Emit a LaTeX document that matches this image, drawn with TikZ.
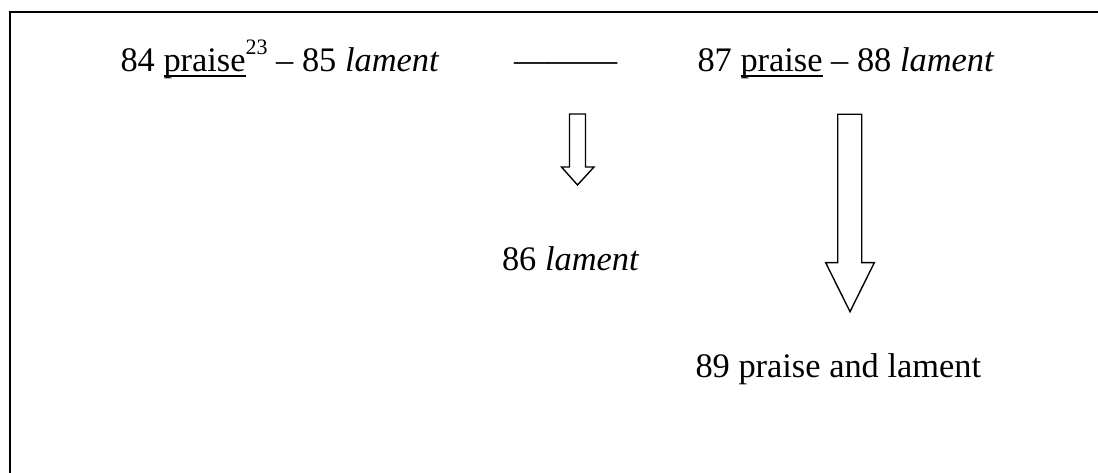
\documentclass[tikz,border=0pt]{standalone}
\usepackage{fontspec}
\setmainfont{Liberation Serif}
\newsavebox\ulbox
\newcommand\myul[1]{\sbox\ulbox{#1}\rlap{\rule[-5.5pt]{\wd\ulbox}{2pt}}\usebox\ulbox}
\newcommand\supnum[1]{\raisebox{17pt}{\fontsize{22}{22}\selectfont #1}}
\tikzset{
  txt/.style={anchor=base west, inner sep=0pt, outer sep=0pt, font=\fontsize{34.4}{41}\selectfont},
  hollowarrow/.style={draw=black, line width=1.4pt, fill=white, line join=miter},
  frameline/.style={draw=black, line width=2.2pt}
}
\begin{document}
\begin{tikzpicture}[x=1pt,y=-1pt]
\useasboundingbox (0,0) rectangle (1098,473);
% frame (only the left and top edges fall inside the picture)
\draw[frameline] (10,480) -- (10,12) -- (1105,12);
% texts
\node[txt] (t1) at (120.5,72) {84 \myul{praise}\supnum{23} – 85 \textit{lament}};
\node[txt] (dash) at (514,72) {———};
\node[txt] (t2) at (697.5,72) {87 \myul{praise} – 88 \textit{lament}};
\node[txt] (t3) at (502,270) {86 \textit{lament}};
\node[txt] (t4) at (695.5,377) {89 praise and lament};
% hollow block arrows
\draw[hollowarrow] (569.5,114) -- (585.5,114) -- (585.5,167) -- (594,167)
  -- (577.5,185) -- (561.5,167) -- (569.5,167) -- cycle;
\draw[hollowarrow] (837.7,114.3) -- (861.7,114.3) -- (861.7,262.7) -- (874.3,262.7)
  -- (850,311.7) -- (825.7,262.7) -- (837.7,262.7) -- cycle;
\end{tikzpicture}
\end{document}
